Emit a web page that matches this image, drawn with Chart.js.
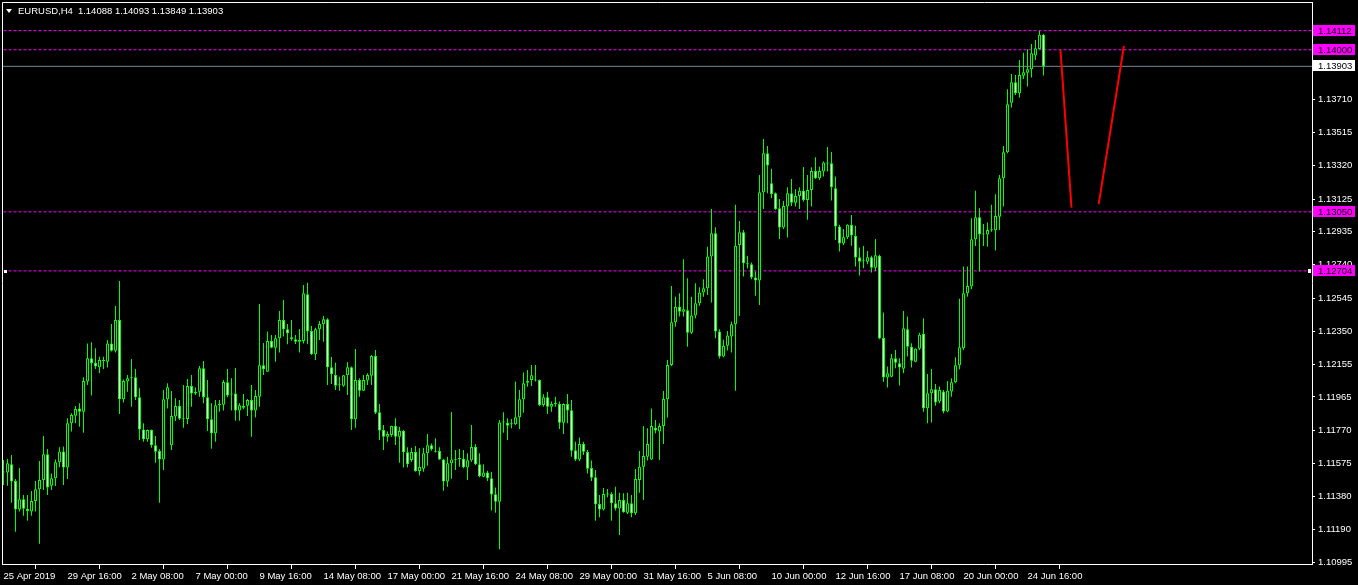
<!DOCTYPE html>
<html>
<head>
<meta charset="utf-8">
<script src="https://cdn.jsdelivr.net/npm/chart.js@4.4.1/dist/chart.umd.min.js"></script>
<style>
  html, body { margin: 0; padding: 0; background: #000; overflow: hidden; }
  canvas { display: block; }
</style>
</head>
<body>
<canvas id="chart" width="1358" height="585"></canvas>
<script>
// EURUSD H4, 25 Apr 2019 00:00 .. 25 Jun 2019 08:00 (one entry per bar)
const symbol = "EURUSD,H4";

const opens = [
  1.11523,1.11523,1.11570,1.11472,1.11306,1.11365,1.11310,1.11293,1.11355,1.11424,
  1.11478,1.11629,1.11445,1.11488,1.11582,1.11646,1.11551,1.11811,1.11855,1.11898,
  1.11879,1.12055,1.12192,1.12166,1.12139,1.12182,1.12172,1.12279,1.12236,1.12416,
  1.11951,1.12055,1.12078,1.12080,1.11963,1.11775,1.11717,1.11771,1.11682,1.11648,
  1.11599,1.11951,1.11682,1.11850,1.11912,1.11834,1.11836,1.12029,1.11986,1.11996,
  1.12133,1.11963,1.11834,1.11752,1.11916,1.11920,1.12051,1.11981,1.11986,1.11885,
  1.11902,1.11914,1.11947,1.11885,1.11967,1.12151,1.12113,1.12293,1.12254,1.12309,
  1.12416,1.12362,1.12315,1.12303,1.12299,1.12293,1.12567,1.12352,1.12215,1.12362,
  1.12391,1.12420,1.12139,1.12094,1.12035,1.12031,1.12092,1.12139,1.11834,1.12065,
  1.12002,1.12061,1.12090,1.12205,1.11875,1.11771,1.11732,1.11742,1.11795,1.11732,
  1.11766,1.11641,1.11596,1.11642,1.11531,1.11545,1.11635,1.11682,1.11650,1.11648,
  1.11599,1.11469,1.11576,1.11599,1.11601,1.11603,1.11551,1.11594,1.11672,1.11570,
  1.11498,1.11523,1.11488,1.11395,1.11351,1.11816,1.11814,1.11807,1.11805,1.11846,
  1.11951,1.12049,1.12065,1.12068,1.12065,1.11918,1.11963,1.11908,1.11924,1.11924,
  1.11814,1.11924,1.11887,1.11652,1.11599,1.11689,1.11642,1.11549,1.11494,1.11338,
  1.11306,1.11397,1.11397,1.11342,1.11312,1.11361,1.11287,1.11342,1.11283,1.11478,
  1.11556,1.11615,1.11599,1.11785,1.11762,1.11795,1.11951,1.12152,1.12403,1.12494,
  1.12465,1.12473,1.12342,1.12442,1.12514,1.12577,1.12602,1.12788,1.12925,1.12348,
  1.12202,1.12265,1.12319,1.12391,1.12856,1.12930,1.12749,1.12743,1.12665,1.12647,
  1.13165,1.13393,1.13218,1.13159,1.13071,1.12958,1.13081,1.13159,1.13104,1.13143,
  1.13173,1.13120,1.13178,1.13290,1.13247,1.13286,1.13339,1.13335,1.13188,1.12964,
  1.12864,1.12901,1.12974,1.12909,1.12784,1.12762,1.12758,1.12784,1.12723,1.12792,
  1.12310,1.12079,1.12084,1.12192,1.12162,1.12131,1.12362,1.12260,1.12172,1.12247,
  1.12335,1.11899,1.11987,1.12010,1.11938,1.11997,1.11880,1.11997,1.12051,1.12151,
  1.12250,1.12573,1.12612,1.12889,1.13018,1.12919,1.12917,1.12944,1.12942,1.13022,
  1.13247,1.13399,1.13690,1.13809,1.13745,1.13848,1.13866,1.13886,1.13966,1.14005,
  1.14088
];
const highs = [
  1.11596,1.11601,1.11625,1.11484,1.11549,1.11391,1.11391,1.11414,1.11472,1.11590,
  1.11736,1.11660,1.11517,1.11599,1.11670,1.11674,1.11840,1.11869,1.11912,1.11928,
  1.12080,1.12279,1.12285,1.12250,1.12201,1.12201,1.12299,1.12393,1.12498,1.12645,
  1.12068,1.12094,1.12188,1.12129,1.12016,1.11811,1.11775,1.11775,1.11736,1.11658,
  1.12006,1.12045,1.12000,1.11957,1.11947,1.12035,1.12070,1.12094,1.12020,1.12147,
  1.12176,1.12065,1.11928,1.11947,1.11947,1.12065,1.12129,1.12074,1.12135,1.11928,
  1.11983,1.11953,1.12035,1.12006,1.12510,1.12281,1.12348,1.12328,1.12328,1.12469,
  1.12533,1.12393,1.12416,1.12328,1.12364,1.12621,1.12635,1.12381,1.12371,1.12410,
  1.12440,1.12426,1.12199,1.12166,1.12084,1.12094,1.12170,1.12143,1.12246,1.12074,
  1.12094,1.12104,1.12211,1.12240,1.11924,1.11801,1.11762,1.11797,1.11840,1.11791,
  1.11771,1.11670,1.11668,1.11678,1.11664,1.11668,1.11748,1.11693,1.11723,1.11670,
  1.11603,1.11615,1.11877,1.11654,1.11660,1.11654,1.11635,1.11801,1.11689,1.11635,
  1.11570,1.11533,1.11525,1.11435,1.11830,1.11875,1.11840,1.11836,1.12055,1.12006,
  1.12108,1.12123,1.12152,1.12152,1.12068,1.11981,1.11996,1.11938,1.11967,1.11938,
  1.11928,1.11983,1.11947,1.11703,1.11728,1.11703,1.11654,1.11592,1.11537,1.11391,
  1.11431,1.11426,1.11406,1.11439,1.11404,1.11400,1.11404,1.11391,1.11543,1.11648,
  1.11795,1.11781,1.11898,1.11830,1.11811,1.12000,1.12182,1.12616,1.12553,1.12573,
  1.12772,1.12661,1.12553,1.12632,1.12608,1.12655,1.12846,1.13067,1.12960,1.12362,
  1.12300,1.12352,1.12407,1.13091,1.12997,1.12944,1.12792,1.12753,1.12700,1.13266,
  1.13477,1.13436,1.13302,1.13163,1.13126,1.13114,1.13194,1.13243,1.13182,1.13194,
  1.13313,1.13266,1.13311,1.13370,1.13315,1.13345,1.13430,1.13401,1.13257,1.12974,
  1.12950,1.12977,1.13032,1.12968,1.12841,1.12850,1.12821,1.12792,1.12891,1.12798,
  1.12460,1.12143,1.12217,1.12241,1.12192,1.12469,1.12436,1.12280,1.12251,1.12342,
  1.12427,1.12100,1.12129,1.12041,1.12026,1.12006,1.12059,1.12075,1.12198,1.12540,
  1.12730,1.12730,1.13012,1.13173,1.13071,1.12979,1.12987,1.13091,1.13153,1.13266,
  1.13436,1.13768,1.13858,1.13852,1.13940,1.13983,1.14003,1.14034,1.14058,1.14112,
  1.14093
];
const lows = [
  1.11449,1.11445,1.11345,1.11175,1.11293,1.11269,1.11240,1.11269,1.11293,1.11105,
  1.11420,1.11391,1.11420,1.11443,1.11553,1.11449,1.11484,1.11762,1.11811,1.11791,
  1.11756,1.12035,1.11973,1.12129,1.12104,1.12129,1.12137,1.12231,1.12225,1.11865,
  1.11932,1.11996,1.11908,1.11947,1.11713,1.11703,1.11703,1.11668,1.11580,1.11345,
  1.11537,1.11898,1.11654,1.11824,1.11830,1.11785,1.11805,1.11908,1.11977,1.11967,
  1.11928,1.11766,1.11662,1.11703,1.11879,1.11885,1.11963,1.11885,1.11826,1.11826,
  1.11893,1.11853,1.11732,1.11844,1.11908,1.12094,1.12113,1.12250,1.12172,1.12225,
  1.12319,1.12274,1.12295,1.12276,1.12225,1.12279,1.12274,1.12211,1.12182,1.12299,
  1.12289,1.12035,1.12041,1.12006,1.12002,1.12025,1.11977,1.11771,1.11785,1.11967,
  1.12000,1.12035,1.12035,1.11865,1.11713,1.11654,1.11703,1.11732,1.11683,1.11580,
  1.11551,1.11551,1.11584,1.11527,1.11504,1.11527,1.11562,1.11650,1.11639,1.11596,
  1.11416,1.11439,1.11486,1.11537,1.11556,1.11547,1.11478,1.11586,1.11566,1.11494,
  1.11494,1.11472,1.11299,1.11287,1.11072,1.11756,1.11713,1.11781,1.11801,1.11777,
  1.11873,1.12025,1.12029,1.12055,1.11912,1.11908,1.11865,1.11879,1.11908,1.11777,
  1.11748,1.11811,1.11615,1.11590,1.11590,1.11625,1.11517,1.11472,1.11240,1.11260,
  1.11299,1.11377,1.11240,1.11299,1.11156,1.11287,1.11279,1.11260,1.11273,1.11404,
  1.11361,1.11592,1.11596,1.11752,1.11596,1.11689,1.11844,1.12147,1.12377,1.12436,
  1.12436,1.12260,1.12334,1.12426,1.12500,1.12553,1.12563,1.12518,1.12309,1.12190,
  1.12198,1.12237,1.12225,1.12002,1.12440,1.12671,1.12718,1.12655,1.12559,1.12504,
  1.13067,1.13159,1.13130,1.13061,1.12891,1.12950,1.12899,1.13085,1.13081,1.13067,
  1.13110,1.13003,1.13081,1.13243,1.13237,1.13257,1.13286,1.13116,1.12885,1.12817,
  1.12856,1.12891,1.12852,1.12729,1.12677,1.12720,1.12743,1.12694,1.12704,1.12304,
  1.12053,1.12020,1.12081,1.12133,1.12032,1.12104,1.12202,1.12137,1.12168,1.12241,
  1.11879,1.11811,1.11815,1.11913,1.11928,1.11870,1.11876,1.11967,1.12046,1.12127,
  1.12241,1.12553,1.12597,1.12850,1.12700,1.12850,1.12846,1.12934,1.12823,1.12944,
  1.13081,1.13393,1.13661,1.13735,1.13720,1.13829,1.13784,1.13837,1.13940,1.14003,
  1.13849
];
const closes = [
  1.11526,1.11576,1.11469,1.11306,1.11365,1.11310,1.11297,1.11355,1.11424,1.11478,
  1.11629,1.11435,1.11488,1.11582,1.11646,1.11551,1.11811,1.11859,1.11895,1.11879,
  1.12059,1.12192,1.12162,1.12143,1.12182,1.12176,1.12279,1.12236,1.12416,1.11951,
  1.12059,1.12074,1.12080,1.11963,1.11775,1.11717,1.11771,1.11682,1.11644,1.11599,
  1.11951,1.12022,1.11853,1.11912,1.11838,1.11836,1.12029,1.11986,1.11996,1.12133,
  1.11963,1.11834,1.11752,1.11916,1.11924,1.12053,1.11973,1.11979,1.11885,1.11916,
  1.11912,1.11947,1.11885,1.11971,1.12151,1.12127,1.12293,1.12254,1.12309,1.12416,
  1.12362,1.12338,1.12303,1.12289,1.12289,1.12573,1.12348,1.12215,1.12362,1.12393,
  1.12420,1.12139,1.12098,1.12031,1.12033,1.12092,1.12139,1.11834,1.12065,1.12002,
  1.12065,1.12094,1.12205,1.11873,1.11768,1.11732,1.11748,1.11795,1.11732,1.11766,
  1.11641,1.11570,1.11642,1.11531,1.11555,1.11635,1.11682,1.11658,1.11644,1.11599,
  1.11469,1.11576,1.11599,1.11597,1.11603,1.11553,1.11594,1.11672,1.11570,1.11500,
  1.11523,1.11488,1.11393,1.11351,1.11816,1.11820,1.11797,1.11805,1.11846,1.11951,
  1.12045,1.12059,1.12092,1.12061,1.11918,1.11963,1.11908,1.11924,1.11928,1.11814,
  1.11924,1.11885,1.11650,1.11599,1.11689,1.11644,1.11545,1.11492,1.11336,1.11306,
  1.11397,1.11393,1.11342,1.11312,1.11361,1.11289,1.11342,1.11283,1.11484,1.11556,
  1.11619,1.11689,1.11795,1.11768,1.11795,1.11953,1.12152,1.12403,1.12494,1.12465,
  1.12479,1.12342,1.12442,1.12514,1.12577,1.12602,1.12788,1.12925,1.12348,1.12202,
  1.12265,1.12325,1.12391,1.12852,1.12930,1.12749,1.12743,1.12665,1.12647,1.13165,
  1.13393,1.13321,1.13155,1.13067,1.12958,1.13085,1.13159,1.13104,1.13143,1.13173,
  1.13120,1.13178,1.13290,1.13247,1.13290,1.13339,1.13333,1.13194,1.12964,1.12864,
  1.12901,1.12974,1.12911,1.12782,1.12758,1.12760,1.12784,1.12723,1.12796,1.12308,
  1.12079,1.12104,1.12192,1.12166,1.12137,1.12368,1.12260,1.12178,1.12247,1.12329,
  1.11899,1.11987,1.12010,1.11932,1.12006,1.11880,1.12001,1.12051,1.12151,1.12256,
  1.12573,1.12616,1.12889,1.13018,1.12919,1.12917,1.12944,1.12942,1.13026,1.13247,
  1.13399,1.13680,1.13809,1.13745,1.13852,1.13868,1.13886,1.13979,1.14009,1.14088,
  1.13903
];

// time axis: one label every 16 bars
const timeLabels = [
  "25 Apr 2019", "29 Apr 16:00", "2 May 08:00", "7 May 00:00", "9 May 16:00",
  "14 May 08:00", "17 May 00:00", "21 May 16:00", "24 May 08:00", "29 May 00:00",
  "31 May 16:00", "5 Jun 08:00", "10 Jun 00:00", "12 Jun 16:00", "17 Jun 08:00",
  "20 Jun 00:00", "24 Jun 16:00"
];
const barsPerLabel = 16;

const priceTicks = [
  1.10995, 1.11190, 1.11380, 1.11575, 1.11770, 1.11965, 1.12155, 1.12350, 1.12545,
  1.12740, 1.12935, 1.13125, 1.13320, 1.13515, 1.13710, 1.13905, 1.14095
];

// horizontal levels and the bid line
const levels = [1.14112, 1.14000, 1.13050, 1.12704];
const bid = 1.13903;

// the two red trend lines, [bar index, price]
const trendDown = [[264.25, 1.13998], [267, 1.13075]];
const trendUp = [[273.8, 1.13095], [280.1, 1.14022]];

const FONT = "'Liberation Sans', Arial, sans-serif";
const LIME = "#00ff00";
const MAGENTA = "#ff00ff";

const wickData = opens.map((o, i) => ({ x: i, y: [lows[i], highs[i]] }));
const bodyData = opens.map((o, i) => ({ x: i, y: [o, closes[i]] }));
const bodyFill = opens.map((o, i) => closes[i] < o ? "#ffffff" : "#000000");

function hline(v, color, dash, order) {
  return {
    type: "line",
    data: [{ x: -5, y: v }, { x: 400, y: v }],
    borderColor: color,
    borderWidth: 1,
    borderDash: dash,
    pointRadius: 0,
    order: order
  };
}

function segment(pts) {
  return {
    type: "line",
    data: pts.map(p => ({ x: p[0], y: p[1] })),
    borderColor: "#ff0000",
    borderWidth: 2,
    pointRadius: 0,
    order: 3
  };
}

const mtDecor = {
  id: "mtDecor",
  beforeDraw(chart) {
    const ctx = chart.ctx;
    ctx.save();
    ctx.fillStyle = "#000";
    ctx.fillRect(0, 0, chart.width, chart.height);
    ctx.restore();
  },
  afterDraw(chart) {
    const { ctx, chartArea: a } = chart;
    const y = chart.scales.y;
    ctx.save();

    // left and top of the frame (bottom/right come from the axes)
    ctx.strokeStyle = "#ffffff";
    ctx.lineWidth = 1;
    ctx.beginPath();
    ctx.moveTo(a.left + 0.5, a.bottom);
    ctx.lineTo(a.left + 0.5, a.top + 0.5);
    ctx.lineTo(a.right, a.top + 0.5);
    ctx.stroke();

    // price tags on the right scale
    ctx.font = "9.5px " + FONT;
    ctx.textBaseline = "middle";
    ctx.textAlign = "left";
    const tag = (v, bg) => {
      const py = Math.round(y.getPixelForValue(v));
      ctx.fillStyle = bg;
      ctx.fillRect(a.right + 1, py - 6, 42, 11);
      ctx.fillStyle = "#000";
      ctx.fillText(v.toFixed(5), a.right + 6, py);
    };
    levels.forEach(v => tag(v, MAGENTA));
    tag(bid, "#ffffff");

    // anchor squares of the lowest level line
    const ly = Math.round(y.getPixelForValue(levels[3]));
    ctx.fillStyle = "#ffffff";
    ctx.fillRect(a.left + 2, ly - 1, 3, 3);
    ctx.fillRect(a.right - 4, ly - 2, 3, 4);

    // title
    const last = opens.length - 1;
    ctx.beginPath();
    ctx.moveTo(6, 9);
    ctx.lineTo(12, 9);
    ctx.lineTo(9, 13);
    ctx.closePath();
    ctx.fill();
    ctx.fillText(symbol, 18, 11);
    const ohlc = [opens[last], highs[last], lows[last], closes[last]].map(v => v.toFixed(5)).join(" ");
    ctx.fillText(ohlc, 18 + ctx.measureText(symbol).width + 5, 11);
    ctx.restore();
  }
};

new Chart(document.getElementById("chart"), {
  type: "bar",
  data: {
    datasets: [
      {
        data: bodyData,
        backgroundColor: bodyFill,
        borderColor: LIME,
        borderWidth: 1,
        borderSkipped: false,
        barThickness: 3,
        maxBarThickness: 3,
        minBarLength: 1,
        inflateAmount: 0,
        grouped: false,
        order: 1
      },
      {
        data: wickData,
        backgroundColor: LIME,
        borderWidth: 0,
        barThickness: 1,
        maxBarThickness: 1,
        minBarLength: 1,
        inflateAmount: 0,
        grouped: false,
        order: 2
      },
      segment(trendDown),
      segment(trendUp),
      hline(levels[0], MAGENTA, [3, 2], 5),
      hline(levels[1], MAGENTA, [3, 2], 5),
      hline(levels[2], MAGENTA, [3, 2], 5),
      hline(levels[3], MAGENTA, [3, 2], 5),
      hline(bid, "#778899", [], 6)
    ]
  },
  options: {
    responsive: false,
    maintainAspectRatio: false,
    devicePixelRatio: 1,
    animation: false,
    events: [],
    layout: { padding: { left: 2, top: 2, right: 0, bottom: 0 } },
    plugins: {
      legend: { display: false },
      tooltip: { enabled: false }
    },
    scales: {
      x: {
        type: "linear",
        min: -0.375,
        max: 327.125,
        offset: false,
        grid: { display: true, drawOnChartArea: false, drawTicks: true, tickLength: 5, color: "#ffffff" },
        border: { display: true, color: "#ffffff" },
        afterBuildTicks: s => {
          s.ticks = timeLabels.map((t, k) => ({ value: k * barsPerLabel }));
        },
        ticks: {
          autoSkip: false,
          maxRotation: 0,
          align: "start",
          padding: 2,
          color: "#ffffff",
          font: { family: FONT, size: 9.5 },
          callback: (v, k) => timeLabels[k]
        },
        afterFit: s => {
          s.height = 21;
          s.paddingLeft = 0;
          s.paddingRight = 0;
        }
      },
      y: {
        type: "linear",
        position: "right",
        min: 1.10986,
        max: 1.14280,
        grid: { display: true, drawOnChartArea: false, drawTicks: true, tickLength: 3, color: "#ffffff" },
        border: { display: true, color: "#ffffff" },
        afterBuildTicks: s => {
          s.ticks = priceTicks.map(v => ({ value: v }));
        },
        ticks: {
          autoSkip: false,
          padding: 3,
          color: "#ffffff",
          font: { family: FONT, size: 9.5 },
          callback: v => v.toFixed(5)
        },
        afterFit: s => {
          s.width = 46;
          s.paddingTop = 0;
          s.paddingBottom = 0;
        }
      }
    }
  },
  plugins: [mtDecor]
});
</script>
</body>
</html>
